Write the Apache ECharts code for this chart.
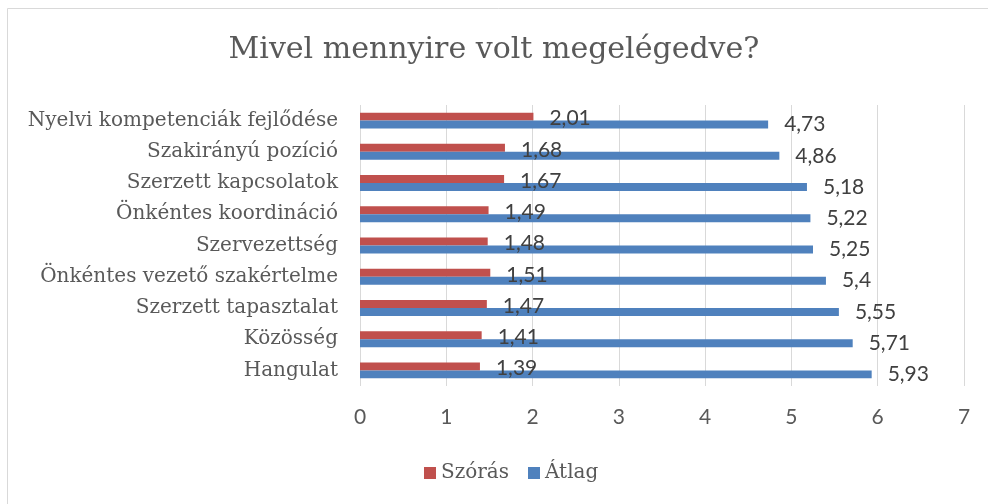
<!DOCTYPE html>
<html>
<head>
	<meta charset="UTF-8">
	<title>Mivel mennyire volt megelégedve?</title>
	<script src="https://cdn.jsdelivr.net/npm/echarts@6/dist/echarts.min.js"></script>
	<style>
		html, body { margin: 0; padding: 0; background: #fff; }
		#chart { width: 988px; height: 504px; }
	</style>
</head>
<body>
<div id="chart"></div>
<script type="text/javascript">
	// kategóriák fentről lefelé
	var categories = [
		'Nyelvi kompetenciák fejlődése',
		'Szakirányú pozíció',
		'Szerzett kapcsolatok',
		'Önkéntes koordináció',
		'Szervezettség',
		'Önkéntes vezető szakértelme',
		'Szerzett tapasztalat',
		'Közösség',
		'Hangulat'
	];
	var szoras = [2.01, 1.68, 1.67, 1.49, 1.48, 1.51, 1.47, 1.41, 1.39];
	var atlag = [4.73, 4.86, 5.18, 5.22, 5.25, 5.4, 5.55, 5.71, 5.93];
	var xTicks = [0, 1, 2, 3, 4, 5, 6, 7];

	var serif = 'DejaVu Serif';
	var sans = 'Lato';

	function comma(p) {
		return String(p.value).replace('.', ',');
	}

	var myChart = echarts.init(document.getElementById('chart'));

	var option = {
		animation: false,
		backgroundColor: '#fff',
		graphic: [{
			type: 'rect',
			shape: { x: 7.5, y: 8.5, width: 1000, height: 600 },
			style: { fill: 'none', stroke: '#d9d9d9', lineWidth: 1 },
			silent: true
		}],
		title: {
			text: 'Mivel mennyire volt megelégedve?',
			left: 'center',
			top: 30,
			textStyle: {
				fontFamily: serif,
				fontSize: 30,
				fontWeight: 'normal',
				color: '#595959'
			}
		},
		legend: {
			data: ['Szórás', 'Átlag'],
			top: 458,
			left: 419,
			icon: 'rect',
			itemWidth: 12,
			itemHeight: 12,
			itemGap: 19,
			textStyle: { fontFamily: serif, fontSize: 20, color: '#595959' }
		},
		grid: {
			left: 360,
			right: 24,
			top: 105,
			bottom: 118,
			containLabel: false
		},
		xAxis: {
			type: 'value',
			min: xTicks[0],
			max: xTicks[xTicks.length - 1],
			interval: 1,
			axisLine: { show: false },
			axisTick: { show: false },
			axisLabel: { margin: 21, fontFamily: sans, fontSize: 21, color: '#595959' },
			splitLine: { show: true, lineStyle: { color: '#d9d9d9', width: 1 } }
		},
		yAxis: {
			type: 'category',
			data: categories,
			inverse: true,
			axisLine: { show: false },
			axisTick: { show: false },
			axisLabel: { margin: 22, fontFamily: serif, fontSize: 20, color: '#595959', padding: [3, 0, 0, 0] }
		},
		series: [{
			name: 'Szórás',
			type: 'bar',
			data: szoras,
			barGap: '0%',
			barCategoryGap: '49%',
			itemStyle: { color: '#C0504D' },
			label: {
				show: true,
				position: 'right',
				distance: 16,
				offset: [0, 2],
				formatter: comma,
				fontFamily: sans,
				fontSize: 21,
				color: '#404040'
			}
		}, {
			name: 'Átlag',
			type: 'bar',
			data: atlag,
			barGap: '0%',
			barCategoryGap: '49%',
			itemStyle: { color: '#4F81BD' },
			label: {
				show: true,
				position: 'right',
				distance: 16,
				formatter: comma,
				fontFamily: sans,
				fontSize: 21,
				color: '#404040'
			}
		}]
	};
	myChart.setOption(option);
</script>
</body>
</html>
